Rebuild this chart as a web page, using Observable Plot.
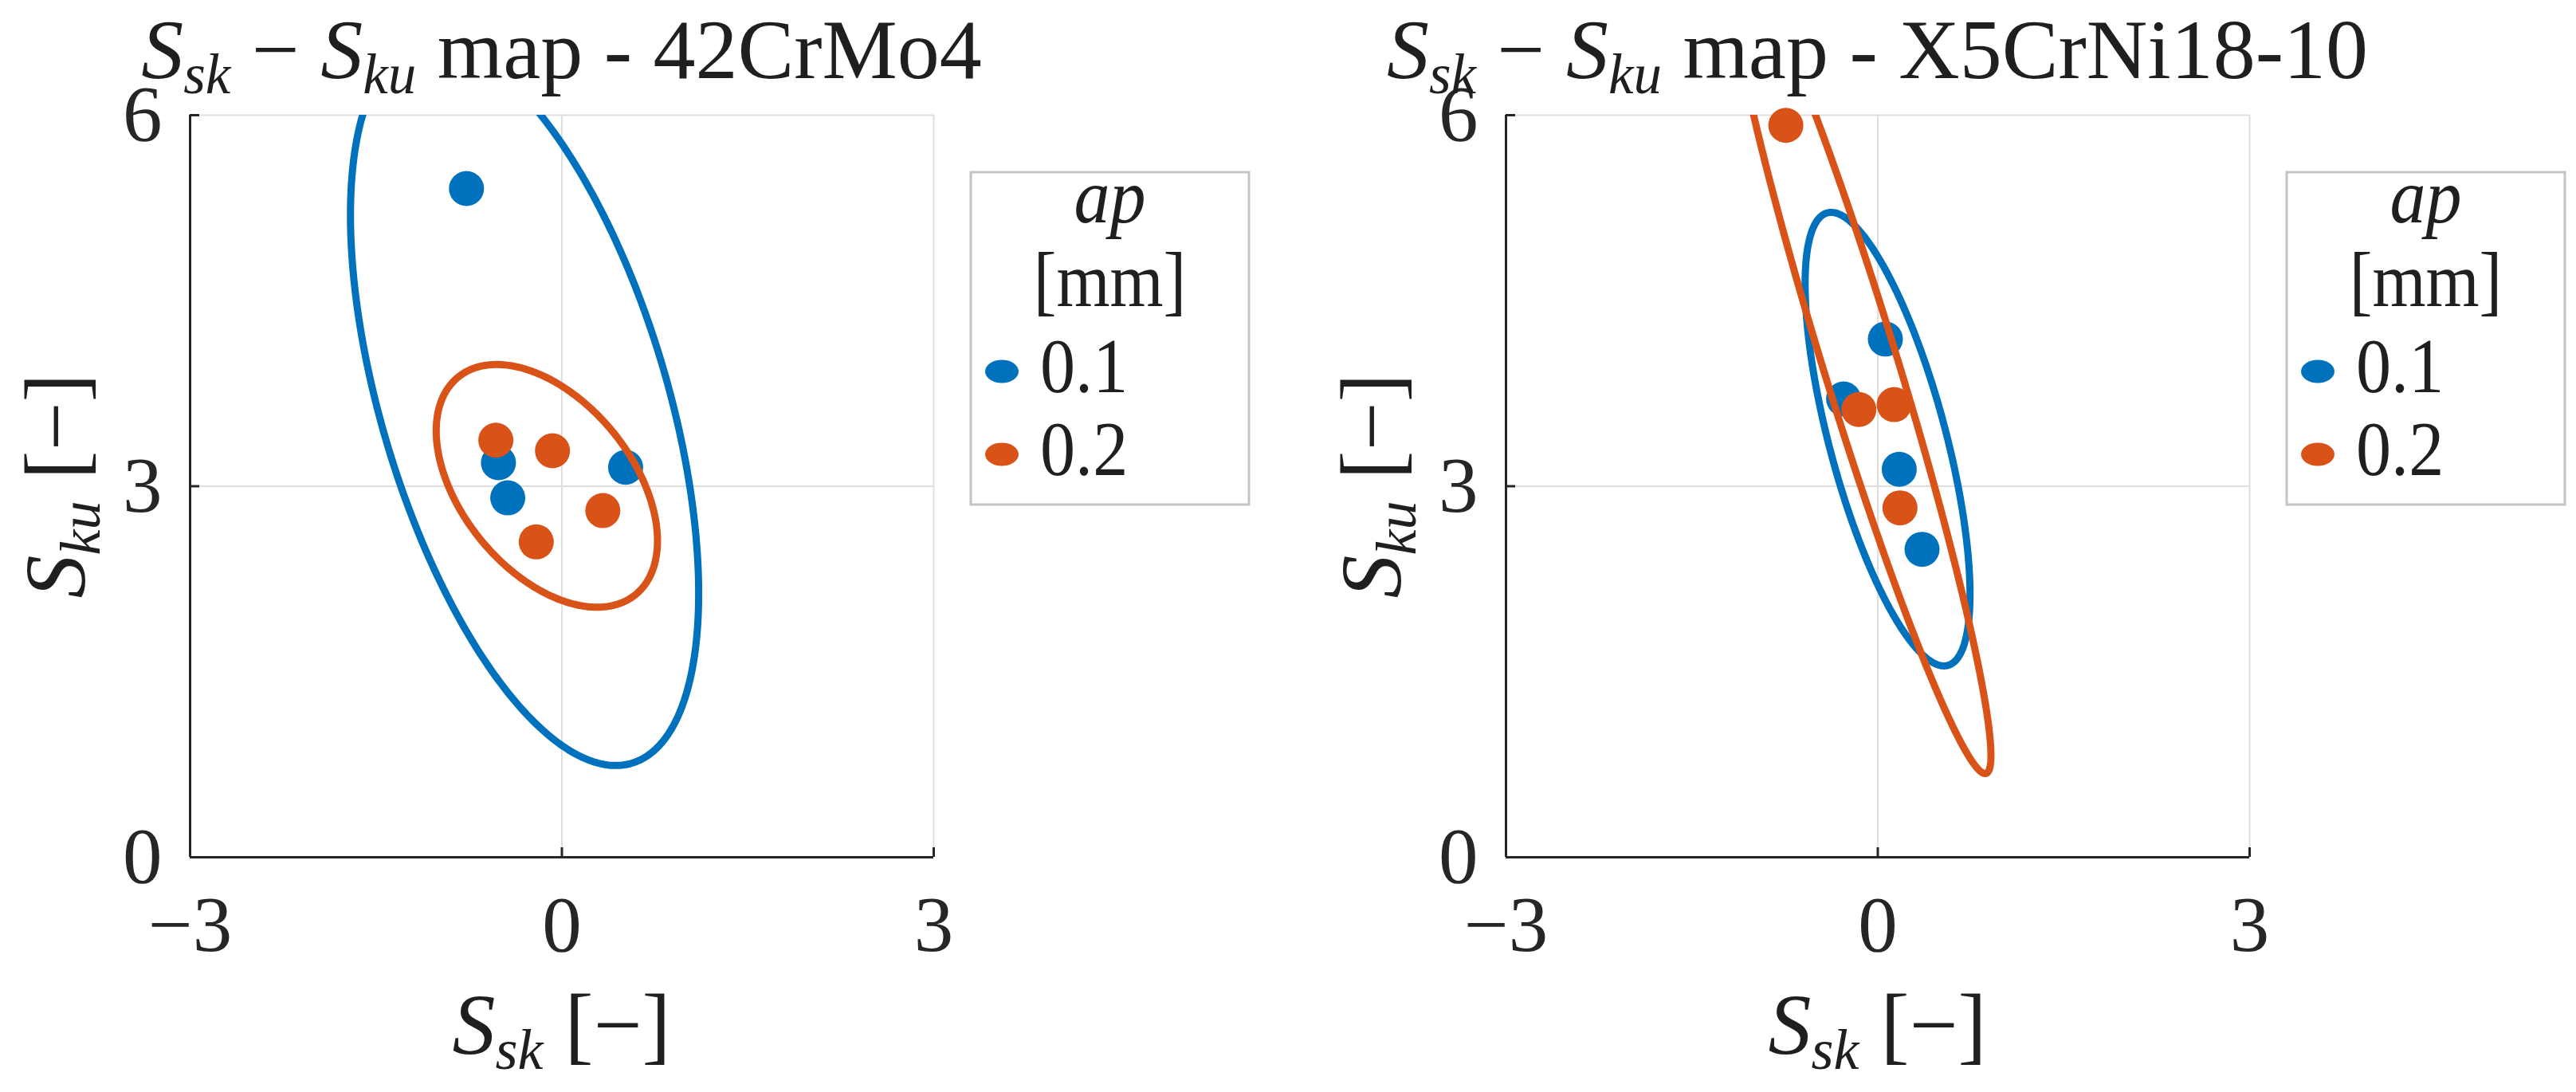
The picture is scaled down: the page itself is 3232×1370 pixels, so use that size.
<!DOCTYPE html>
<html><head><meta charset="utf-8">
<script src="https://cdn.jsdelivr.net/npm/d3@7"></script>
<script src="https://cdn.jsdelivr.net/npm/@observablehq/plot@0.6"></script>
<style>
html,body{margin:0;padding:0;background:#fff;}
#fig{position:relative;width:3232px;height:1370px;overflow:hidden;background:#fff;}
#fig > svg{position:absolute;top:0;}
</style></head><body><div id="fig"></div>
<script>
// ---- axes ----
const xDomain = [-3, 3];
const yDomain = [0, 6];
const xTicks = [-3, 0, 3];
const yTicks = [0, 3, 6];

// ---- legend / groups ----
const legendTitle = "ap";
const legendUnit = "[mm]";
const groups = ["0.1", "0.2"];
const groupColors = ["#0072BD", "#D95319"];
const materials = ["42CrMo4", "X5CrNi18-10"];

// ---- data: 42CrMo4 ----
const crmo_ap01_ssk = [-0.77, -0.512, -0.437, 0.514];
const crmo_ap01_sku = [5.407, 3.19, 2.906, 3.153];
const crmo_ap02_ssk = [-0.533, -0.076, 0.33, -0.207];
const crmo_ap02_sku = [3.372, 3.287, 2.803, 2.55];

// ---- data: X5CrNi18-10 ----
const crni_ap01_ssk = [0.061, -0.276, 0.173, 0.357];
const crni_ap01_sku = [4.19, 3.706, 3.137, 2.49];
const crni_ap02_ssk = [-0.742, -0.153, 0.132, 0.179];
const crni_ap02_sku = [5.918, 3.62, 3.66, 2.825];

// size of the confidence ellipse (in standard deviations)
const ellipseScale = 2.5;

const panels = [
  {material: materials[0], sets: [{x: crmo_ap01_ssk, y: crmo_ap01_sku}, {x: crmo_ap02_ssk, y: crmo_ap02_sku}]},
  {material: materials[1], sets: [{x: crni_ap01_ssk, y: crni_ap01_sku}, {x: crni_ap02_ssk, y: crni_ap02_sku}]}
];

// covariance ellipse of a group of points (derived from the data)
function confidenceEllipse(xs, ys, k, n = 360) {
  const m = xs.length;
  const mx = d3.mean(xs), my = d3.mean(ys);
  let sxx = 0, syy = 0, sxy = 0;
  for (let i = 0; i < m; i++) {
    const dx = xs[i] - mx, dy = ys[i] - my;
    sxx += dx * dx; syy += dy * dy; sxy += dx * dy;
  }
  sxx /= (m - 1); syy /= (m - 1); sxy /= (m - 1);
  const l11 = Math.sqrt(sxx), l21 = sxy / l11, l22 = Math.sqrt(Math.max(0, syy - l21 * l21));
  return d3.range(n + 1).map(i => {
    const t = 2 * Math.PI * i / n, c = Math.cos(t), s = Math.sin(t);
    return {x: mx + k * l11 * c, y: my + k * (l21 * c + l22 * s)};
  });
}

const FONT = "'Liberation Serif', 'Times New Roman', serif";
const AX = "#262626";
const GRID = "#dfdfdf";
const fmt = d => d < 0 ? "\u2212" + Math.abs(d) : String(d);

const panelLeft = [0, 1651];
const M = {left: 238, right: 30, top: 144, bottom: 295};
const W = 1201, H = 1370;
const fig = document.getElementById("fig");

panels.forEach((p, pi) => {
  const marks = [
    Plot.gridX(xTicks, {stroke: GRID, strokeOpacity: 1, strokeWidth: 2}),
    Plot.gridY(yTicks, {stroke: GRID, strokeOpacity: 1, strokeWidth: 2}),
    Plot.ruleX([xDomain[0]], {stroke: AX, strokeWidth: 3}),
    Plot.ruleY([yDomain[0]], {stroke: AX, strokeWidth: 3}),
    Plot.ruleX(xTicks, {x: d => d, y1: yDomain[0], y2: yDomain[0], insetBottom: 12, stroke: AX, strokeWidth: 3}),
    Plot.ruleY(yTicks, {y: d => d, x1: xDomain[0], x2: xDomain[0], insetRight: -12, stroke: AX, strokeWidth: 3}),
    Plot.axisX(xTicks, {tickSize: 0, tickPadding: 47, tickFormat: fmt, label: null, fontSize: 99, fill: AX}),
    Plot.axisY(yTicks, {tickSize: 0, tickPadding: 35, tickFormat: fmt, label: null, fontSize: 99, fill: AX})
  ];
  p.sets.forEach((s, gi) => {
    const pts = s.x.map((x, i) => ({x, y: s.y[i], g: groups[gi]}));
    marks.push(Plot.dot(pts, {x: "x", y: "y", r: 22, fill: groupColors[gi], stroke: null}));
    marks.push(Plot.line(confidenceEllipse(s.x, s.y, ellipseScale), {x: "x", y: "y", stroke: groupColors[gi], strokeWidth: 9, clip: true}));
  });
  const svg = Plot.plot({
    width: W, height: H,
    marginLeft: M.left, marginRight: M.right, marginTop: M.top, marginBottom: M.bottom,
    x: {domain: xDomain},
    y: {domain: yDomain},
    style: {fontFamily: FONT, fontSize: "99px", color: AX, background: "transparent", overflow: "visible"},
    marks
  });
  svg.style.left = panelLeft[pi] + "px";
  fig.appendChild(svg);
});

// ---- overlay: titles, axis labels, legends ----
const ov = d3.select(fig).append("svg")
  .attr("width", 3232).attr("height", 1370)
  .style("left", "0px").style("pointer-events", "none")
  .attr("font-family", FONT).attr("fill", "#1f1f1f");

function mathText(parent, parts, size) {
  const t = parent.append("text").attr("font-size", size);
  const shift = Math.round(size * 0.18);
  let down = false;
  parts.forEach(pt => {
    const ts = t.append("tspan").text(pt.t);
    if (pt.i) ts.attr("font-style", "italic");
    if (pt.sub && !down) { ts.attr("font-size", Math.round(size * 0.67)).attr("dy", shift); down = true; }
    else if (!pt.sub && down) { ts.attr("dy", -shift); down = false; }
    else if (pt.sub) ts.attr("font-size", Math.round(size * 0.67));
  });
  return t;
}
const Ssk = [{t: "S", i: true}, {t: "sk", i: true, sub: true}];
const Sku = [{t: "S", i: true}, {t: "ku", i: true, sub: true}];

panels.forEach((p, pi) => {
  const off = panelLeft[pi];
  const cx = off + M.left + (W - M.left - M.right) / 2;
  const cy = M.top + (H - M.top - M.bottom) / 2;
  // title
  mathText(ov, [...Ssk, {t: " \u2212 "}, ...Sku, {t: " map - " + p.material}], 106)
    .attr("x", cx).attr("y", 98).attr("text-anchor", "middle");
  // x label
  mathText(ov, [...Ssk, {t: " [\u2212]"}], 108)
    .attr("x", cx).attr("y", 1322).attr("text-anchor", "middle");
  // y label
  mathText(ov, [...Sku, {t: " [\u2212]"}], 108)
    .attr("text-anchor", "middle")
    .attr("transform", `translate(${off + 106},${cy}) rotate(-90)`);

  // legend
  const bx = off + 1218, by = 216, bw = 349, bh = 417;
  const lg = ov.append("g");
  lg.append("rect").attr("x", bx).attr("y", by).attr("width", bw).attr("height", bh)
    .attr("fill", "#fff").attr("stroke", "#c4c4c4").attr("stroke-width", 3);
  lg.append("text").text(legendTitle).attr("font-style", "italic").attr("font-size", 98)
    .attr("text-anchor", "middle").attr("transform", `translate(${bx + bw / 2},${by + 63}) scale(0.92,1)`);
  lg.append("text").text(legendUnit).attr("font-size", 98)
    .attr("text-anchor", "middle").attr("transform", `translate(${bx + bw / 2},${by + 168}) scale(0.88,1)`);
  groups.forEach((g, gi) => {
    const yc = by + 250 + gi * 104;
    lg.append("ellipse").attr("cx", bx + 39).attr("cy", yc).attr("rx", 21).attr("ry", 14.5)
      .attr("fill", groupColors[gi]);
    lg.append("text").text(g).attr("font-size", 98)
      .attr("transform", `translate(${bx + 87},${yc + 26}) scale(0.9,1)`);
  });
});
</script></body></html>
